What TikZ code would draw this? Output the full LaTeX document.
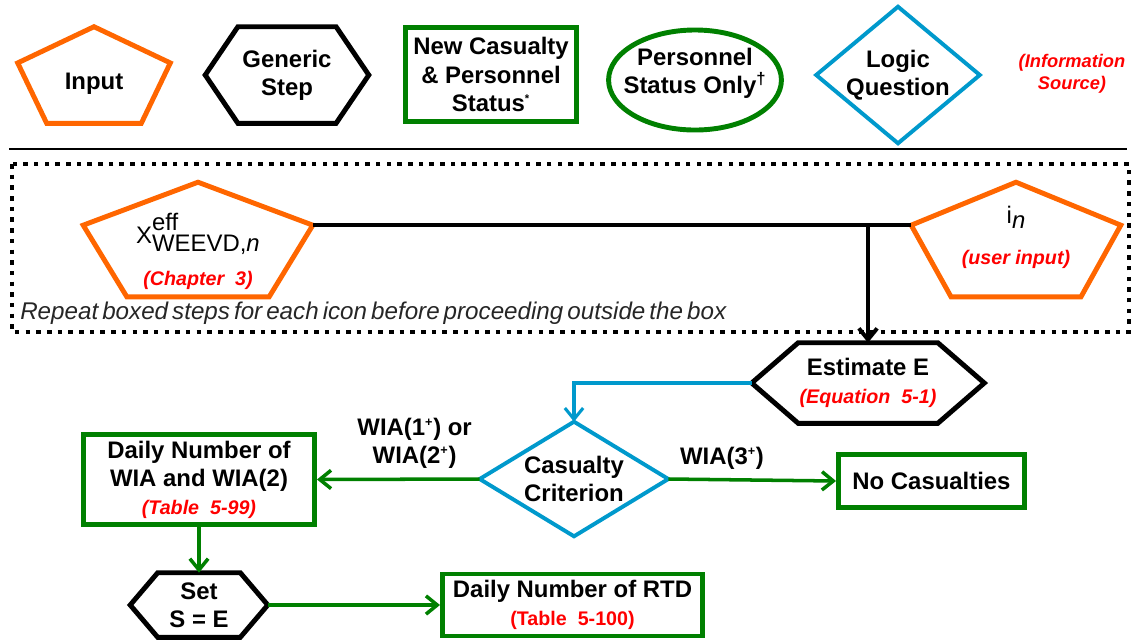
\documentclass[tikz,border=0pt]{standalone}
\usepackage{fontspec}
\setmainfont{Liberation Sans}
\newfontfamily\notefont[WordSpace=0.6]{Liberation Sans}
\usetikzlibrary{arrows.meta, calc}

\definecolor{inorange}{RGB}{255,102,0}
\definecolor{stgreen}{RGB}{0,128,0}
\definecolor{qblue}{RGB}{0,153,204}
\definecolor{srcred}{RGB}{255,0,0}

\newcommand{\srcit}[1]{{\color{srcred}\fontsize{14}{16}\selectfont\bfseries\itshape #1}}
\newcommand{\srcup}[1]{{\color{srcred}\fontsize{14}{16}\selectfont\bfseries #1}}
\newcommand{\smallsup}[1]{\textsuperscript{\fontsize{9}{9}\selectfont #1}}

\begin{document}
\begin{tikzpicture}[
        x=0.025cm, y=-0.025cm, >={Straight Barb[length=8pt, width=13pt]},
        font=\fontsize{17}{20}\selectfont\bfseries,
        every node/.style={align=center, inner sep=0pt},
        shapeline/.style={line width=3.5pt, line join=miter},
        inputbox/.style={append after command={\pgfextra{\draw[shapeline, inorange]
            (\tikzlastnode.north) -- ($(\tikzlastnode.west)!0.25!(\tikzlastnode.north west)$)
            -- ($(\tikzlastnode.south)!0.62!(\tikzlastnode.south west)$)
            -- ($(\tikzlastnode.south)!0.62!(\tikzlastnode.south east)$)
            -- ($(\tikzlastnode.east)!0.25!(\tikzlastnode.north east)$) -- cycle;}}},
        stepbox/.style={append after command={\pgfextra{\draw[shapeline, black]
            (\tikzlastnode.west) -- ($(\tikzlastnode.north west)!0.2!(\tikzlastnode.north east)$)
            -- ($(\tikzlastnode.north east)!0.2!(\tikzlastnode.north west)$) -- (\tikzlastnode.east)
            -- ($(\tikzlastnode.south east)!0.2!(\tikzlastnode.south west)$)
            -- ($(\tikzlastnode.south west)!0.2!(\tikzlastnode.south east)$) -- cycle;}}},
        logicbox/.style={append after command={\pgfextra{\draw[shapeline, qblue, line width=2.8pt]
            (\tikzlastnode.north) -- (\tikzlastnode.east) -- (\tikzlastnode.south)
            -- (\tikzlastnode.west) -- cycle;}}},
        statusbox/.style={draw=stgreen, line width=3.5pt},
        onlybox/.style={append after command={\pgfextra{\draw[shapeline, stgreen]
            ($(\tikzlastnode.center)+(0,7)$) ellipse [x radius=2.16cm, y radius=1.25cm];}}},
        srcnote/.style={text=srcred, font=\fontsize{13}{15.6}\selectfont\bfseries\itshape},
        plainfont/.style={font=\fontsize{17}{20}\selectfont\mdseries},
        dotbox/.style={line width=3.2pt, dash pattern=on 3.2pt off 4.4pt},
        flow/.style={->, line width=2.5pt, stgreen},
        blackflow/.style={->, line width=2.8pt, black},
        blueflow/.style={->, line width=2.2pt, qblue}
    ]
    \useasboundingbox (0,0) rectangle (1131,641);

    % legend
    \node[inputbox, minimum width=3.8cm, minimum height=2.4cm, text height=0.87cm] (lgin) at (94,75) {Input};
    \node[stepbox, minimum width=4.075cm, minimum height=2.4cm] (lgstep) at (287,75) {Generic\\Step};
    \node[statusbox, minimum width=4.275cm, minimum height=2.35cm] (lgstat) at (491,74.5) {New Casualty\\\& Personnel\\Status\textsuperscript{\fontsize{8}{8}\selectfont *}};
    \node[onlybox] (lgonly) at (695,73) {Personnel\\Status Only\textsuperscript{\textdagger}};
    \node[logicbox, minimum width=4.075cm, minimum height=3.4cm] (lglogic) at (898,75) {Logic\\Question};
    \node[srcnote] (lgsrc) at (1072,74) {(Information\\Source)};

    \draw[line width=1.5pt] (9,149) -- (1127,149);
    \draw[dotbox] (12,164) rectangle (1129,332);

    % boxed steps
    \node[inputbox, plainfont, minimum width=5.725cm, minimum height=2.85cm, text height=68pt] (xeff) at (198,239.5)
        {X\rlap{\raisebox{9.3pt}{eff}}\raisebox{-5.7pt}{WEEVD,\textit{n}}\\[10pt]\srcit{(Chapter~ 3)}};
    \node[inputbox, plainfont, minimum width=5.225cm, minimum height=2.85cm, text height=38pt] (iin) at (1016,239.5)
        {i\raisebox{-3.5pt}{\textit{n}}\\[9pt]\srcit{(user input)}};
    \node[anchor=west, font=\notefont\fontsize{17.2}{19}\selectfont\mdseries\itshape, text=black!85] (repnote) at (20,313)
        {Repeat boxed steps for each icon before proceeding outside the box};

    \node[stepbox, minimum width=5.8cm, minimum height=2cm] (est) at (868,383) {Estimate E\\\srcit{(Equation~ 5-1)}};
    \node[logicbox, minimum width=4.7cm, minimum height=2.85cm] (crit) at (574,479) {Casualty\\Criterion};
    \node[statusbox, minimum width=5.775cm, minimum height=2.25cm] (wia) at (199,479.5) {Daily Number of\\WIA and WIA(2)\\\srcit{(Table~ 5-99)}};
    \node[statusbox, minimum width=4.65cm, minimum height=1.325cm] (nocas) at (931.5,481) {No Casualties};
    \node[stepbox, minimum width=3.425cm, minimum height=1.6cm] (sete) at (199,605) {Set\\S = E};
    \node[statusbox, minimum width=6.5cm, minimum height=1.55cm] (rtd) at (572.5,605) {Daily Number of RTD\\\srcup{(Table~ 5-100)}};

    \coordinate (xtip) at ($(xeff.east)!0.25!(xeff.north east)$);
    \coordinate (itip) at ($(iin.west)!0.25!(iin.north west)$);
    \draw[line width=2.8pt] (xtip) -- (itip);
    \draw[blackflow] (xtip -| est.north) -- (est.north);
    \draw[blueflow] (est.west) -| (crit.north);
    \draw[flow] (crit.west) -- node[pos=0.4, above=0.22cm, text=black] (lbllow) {WIA(1\smallsup{+}) or\\WIA(2\smallsup{+})} (wia.east);
    \draw[flow] (crit.east) -- node[pos=0.32, above=0.22cm, text=black] (lblhigh) {WIA(3\smallsup{+})} (nocas.west);
    \draw[flow] (wia.south) -- (sete.north);
    \draw[flow] (sete.east) -- (rtd.west);
\end{tikzpicture}
\end{document}
